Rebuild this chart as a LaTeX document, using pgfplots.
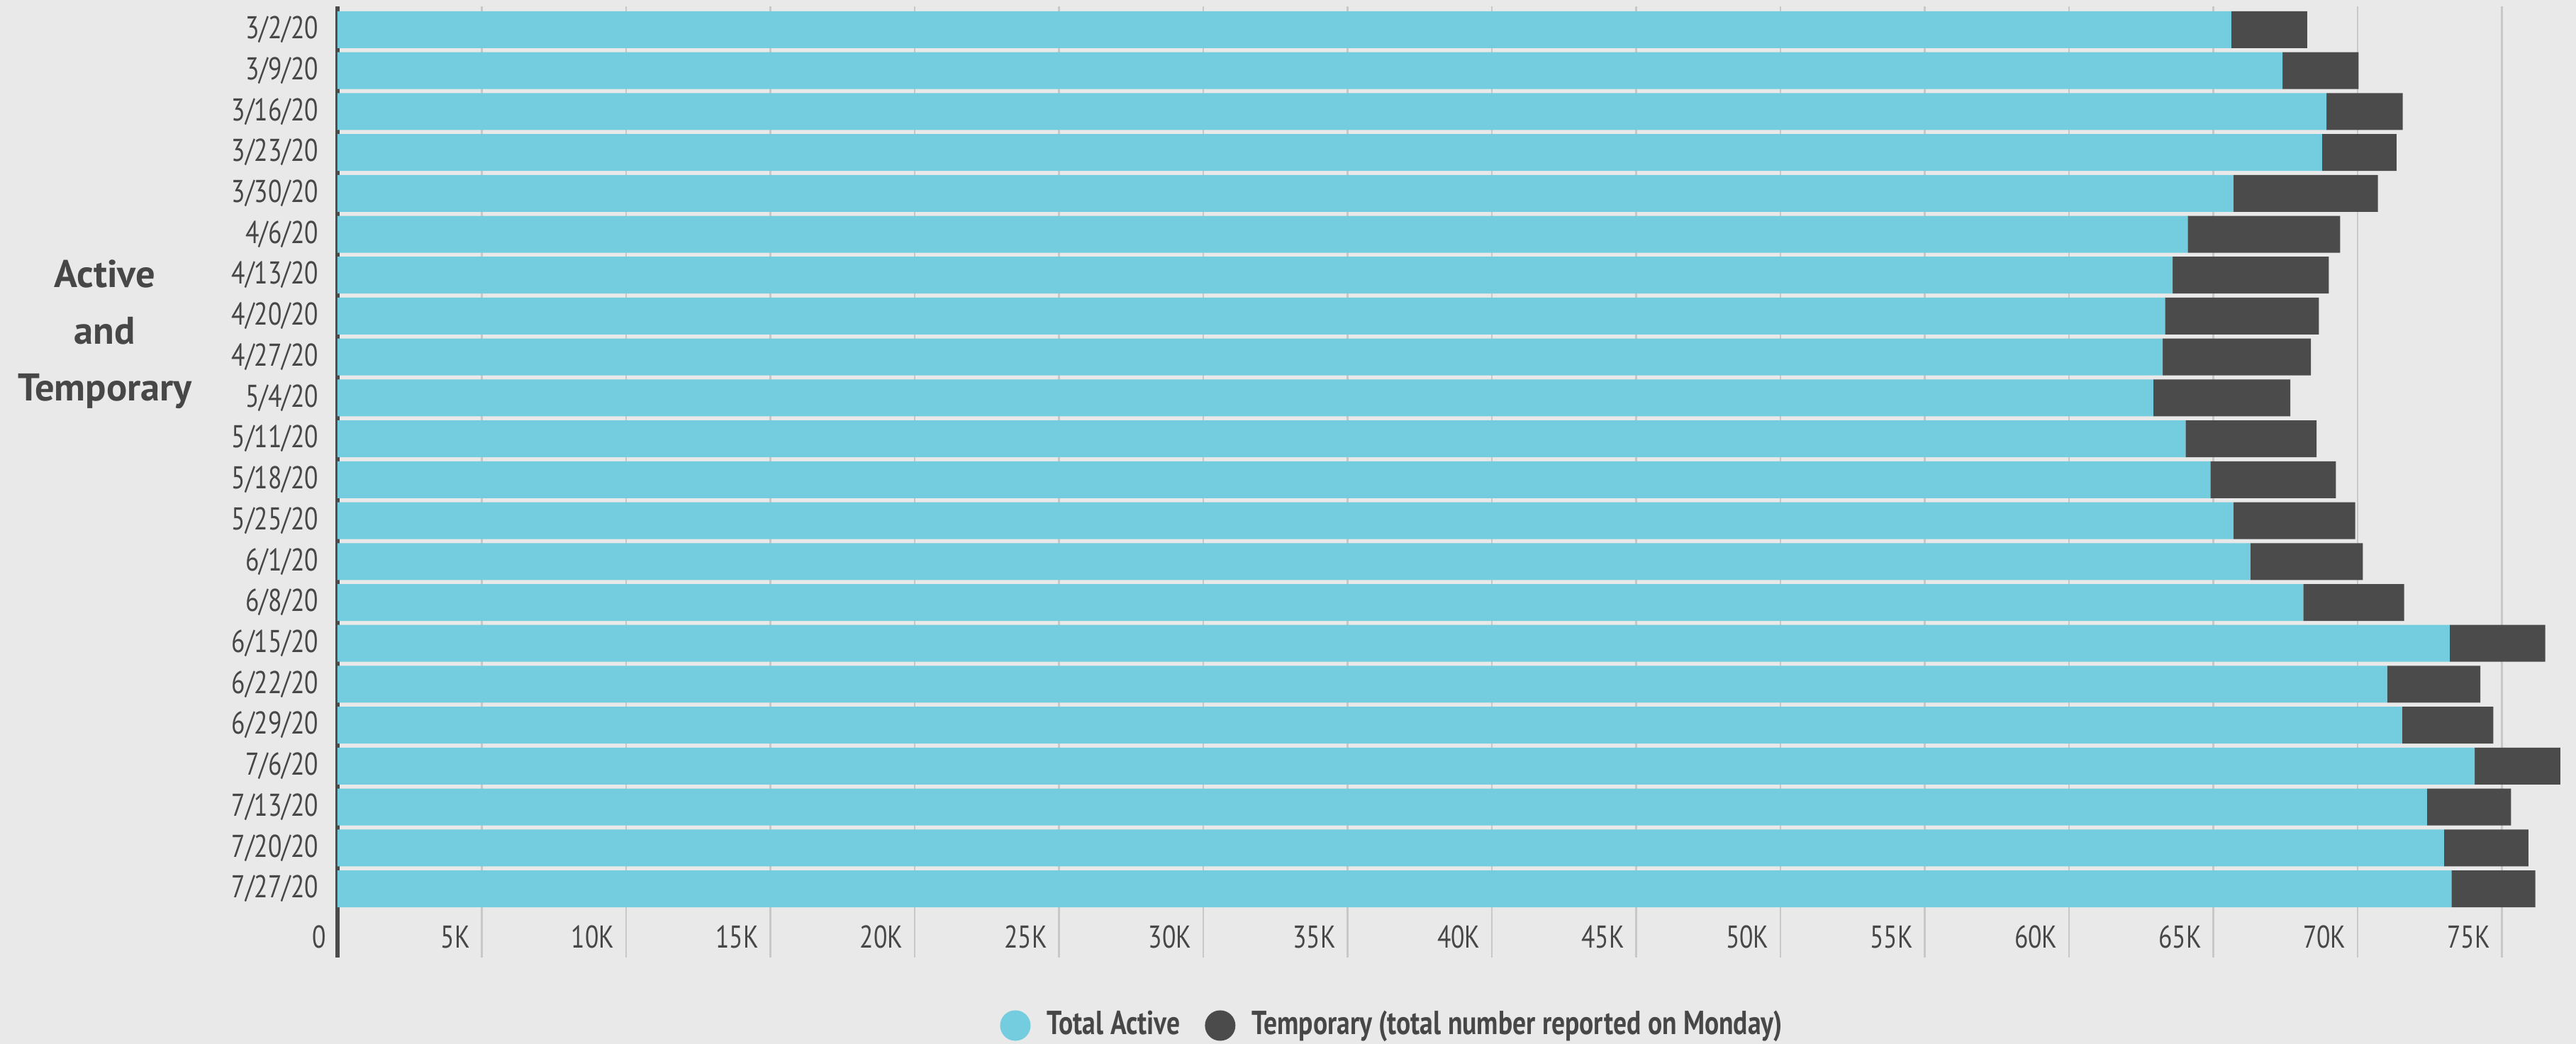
\documentclass[border=0pt]{standalone}
\usepackage{pgfplots}
\pgfplotsset{compat=1.18}
\usepackage{fontspec}
\setmainfont{PT Sans}[FakeStretch=0.8]
\newfontfamily\ptsans{PT Sans}
\usetikzlibrary{backgrounds,calc}
\definecolor{bg}{HTML}{E8E9E8}
\definecolor{tealc}{HTML}{74CDDE}
\definecolor{darkc}{HTML}{4B4B4B}
\definecolor{gridc}{HTML}{C8C8C8}
\definecolor{txt}{HTML}{474747}
\begin{document}
\begin{tikzpicture}
\begin{axis}[
  scale only axis,
  width=631.4pt, height=268.4pt,
  xbar stacked,
  bar width=10.4pt,
  xmin=0, xmax=77567,
  ymin=-0.57, ymax=22.68,
  y dir=reverse,
  scaled x ticks=false,
  ytick={0,1,...,21},
  yticklabels={3/2/20,3/9/20,3/16/20,3/23/20,3/30/20,4/6/20,4/13/20,4/20/20,4/27/20,5/4/20,5/11/20,5/18/20,5/25/20,6/1/20,6/8/20,6/15/20,6/22/20,6/29/20,7/6/20,7/13/20,7/20/20,7/27/20},
  xtick={5000,10000,...,75000},
  xticklabels={5K,10K,15K,20K,25K,30K,35K,40K,45K,50K,55K,60K,65K,70K,75K},
  extra x ticks={0},
  extra x tick labels={0},
  extra x tick style={grid=major, major grid style={draw=darkc, line width=1.2pt}},
  major tick length=0pt,
  xmajorgrids,
  major grid style={draw=gridc, line width=0.56pt},
  axis line style={draw=none},
  xticklabel style={anchor=east, inner sep=0pt, xshift=-3.1pt, yshift=5.8pt, font=\fontsize{8.9}{10}\selectfont, text=txt},
  yticklabel style={anchor=east, inner sep=0pt, xshift=-5.2pt, font=\fontsize{8.9}{10}\selectfont, text=txt},
  ylabel={Active\\and\\Temporary},
  ylabel style={rotate=-90, at={(axis description cs:-0.1039,0.655)}, anchor=center, align=center, font=\ptsans\bfseries\fontsize{10.9}{16}\selectfont, text=txt},
  legend style={at={(axis description cs:0.4724,-0.0715)}, anchor=center, draw=none, fill=none, legend columns=-1, font=\bfseries\fontsize{9.4}{11}\selectfont, text=txt, /tikz/every even column/.append style={column sep=5pt}},
]
\addplot[fill=tealc, draw=none, legend image code/.code={\fill[tealc] (0pt,0pt) circle (4.3pt); \path (7pt,0pt);}] coordinates {
(65620,0) (67400,1) (68920,2) (68770,3) (65690,4) (64110,5) (63590,6) (63325,7) (63245,8) (62920,9) (64040,10) (64895,11) (65690,12) (66280,13) (68115,14) (73190,15) (71020,16) (71540,17) (74055,18) (72405,19) (72995,20) (73250,21)};
\addplot[fill=darkc, draw=none, legend image code/.code={\fill[darkc] (0pt,0pt) circle (4.3pt); \path (7pt,0pt);}] coordinates {
(2630,0) (2630,1) (2640,2) (2575,3) (5010,4) (5285,5) (5410,6) (5330,7) (5135,8) (4745,9) (4535,10) (4350,11) (4225,12) (3900,13) (3495,14) (3310,15) (3230,16) (3160,17) (2965,18) (2910,19) (2920,20) (2905,21)};
\legend{Total Active, Temporary (total number reported on Monday)}
\end{axis}
\begin{scope}[on background layer]
\fill[bg] ($(current axis.south west)+(-95.2pt,-24.4pt)$) rectangle ($(current axis.north east)+(0pt,1.8pt)$);
\end{scope}
\pgfresetboundingbox
\path ($(current axis.south west)+(-95.2pt,-24.4pt)$) rectangle ($(current axis.north east)+(0pt,1.8pt)$);
\end{tikzpicture}
\end{document}
